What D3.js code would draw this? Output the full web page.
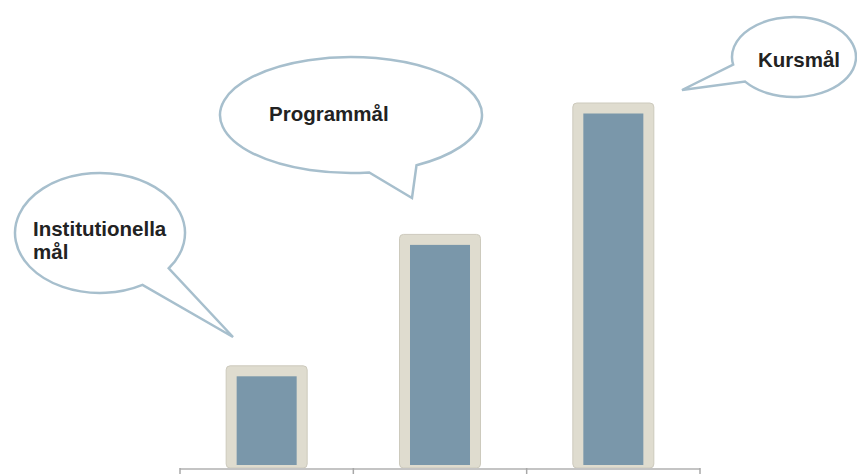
<!DOCTYPE html>
<html>
<head>
<meta charset="utf-8">
<script src="https://cdn.jsdelivr.net/npm/d3@7"></script>
<style>
html,body{margin:0;padding:0;background:#fff;}
svg{display:block;}
</style>
</head>
<body>
<svg id="chart" width="857" height="474"></svg>
<script>
// ---- data ----
const categories = ["Institutionella mål", "Programmål", "Kursmål"];
const values = [28, 64, 100];
const labelLines = [["Institutionella", "mål"], ["Programmål"], ["Kursmål"]];

// ---- layout (bubbles) ----
const bubbles = [
  {cx: 100, cy: 233, rx: 85, ry: 60, a1: 36, a2: 60, tip: [233, 337], tx: 33, ty: 236},
  {cx: 351, cy: 115, rx: 131, ry: 58, a1: 60, a2: 82, tip: [412, 198], tx: 269, ty: 121},
  {cx: 794, cy: 57, rx: 62, ry: 40, a1: 142, a2: 169, tip: [682, 90], tx: 758, ty: 67}
];

const svg = d3.select("#chart");
const baseY = 468;
const x = d3.scaleBand().domain(categories).range([180, 700]).paddingInner(0).paddingOuter(0);
const y = d3.scaleLinear().domain([0, 100]).range([baseY, 103]);

const outerW = 81, inset = 10.5;

// bars
const g = svg.append("g");
categories.forEach((c, i) => {
  const cx = x(c) + x.bandwidth() / 2;
  const top = y(values[i]);
  g.append("rect")
    .attr("x", cx - outerW / 2).attr("y", top)
    .attr("width", outerW).attr("height", baseY - top)
    .attr("rx", 4).attr("ry", 4)
    .attr("fill", "#dfdccf").attr("stroke", "#cdcabd").attr("stroke-width", 1);
  g.append("rect")
    .attr("x", cx - outerW / 2 + inset).attr("y", top + inset)
    .attr("width", outerW - 2 * inset).attr("height", baseY - top - inset - 3)
    .attr("fill", "#7a97aa");
});

// axis line and ticks
svg.append("line")
  .attr("x1", x.range()[0]).attr("x2", x.range()[1])
  .attr("y1", baseY + 1).attr("y2", baseY + 1)
  .attr("stroke", "#c4c4c4").attr("stroke-width", 2);
const tickXs = categories.map(c => x(c)).concat([x.range()[1]]);
svg.selectAll(".tick").data(tickXs).enter().append("line")
  .attr("x1", d => d).attr("x2", d => d)
  .attr("y1", baseY).attr("y2", baseY + 6)
  .attr("stroke", "#a8a8a8").attr("stroke-width", 1.5);

// bubbles
function bubblePath(b) {
  const r = Math.PI / 180;
  const p1 = [b.cx + b.rx * Math.cos(b.a1 * r), b.cy + b.ry * Math.sin(b.a1 * r)];
  const p2 = [b.cx + b.rx * Math.cos(b.a2 * r), b.cy + b.ry * Math.sin(b.a2 * r)];
  return `M${p2[0]},${p2[1]} A${b.rx},${b.ry} 0 1 1 ${p1[0]},${p1[1]} L${b.tip[0]},${b.tip[1]} Z`;
}
bubbles.forEach((b, i) => {
  svg.append("path")
    .attr("d", bubblePath(b))
    .attr("fill", "#fff")
    .attr("stroke", "#a7bfcd")
    .attr("stroke-width", 2.5)
    .attr("stroke-linejoin", "miter");
  const t = svg.append("text")
    .attr("x", b.tx).attr("y", b.ty)
    .attr("font-family", "'Liberation Sans', Arial, sans-serif")
    .attr("font-weight", "bold").attr("font-size", 20.5)
    .attr("fill", "#222");
  labelLines[i].forEach((ln, j) => {
    t.append("tspan").attr("x", b.tx).attr("dy", j === 0 ? 0 : 23).text(ln);
  });
});
</script>
</body>
</html>
